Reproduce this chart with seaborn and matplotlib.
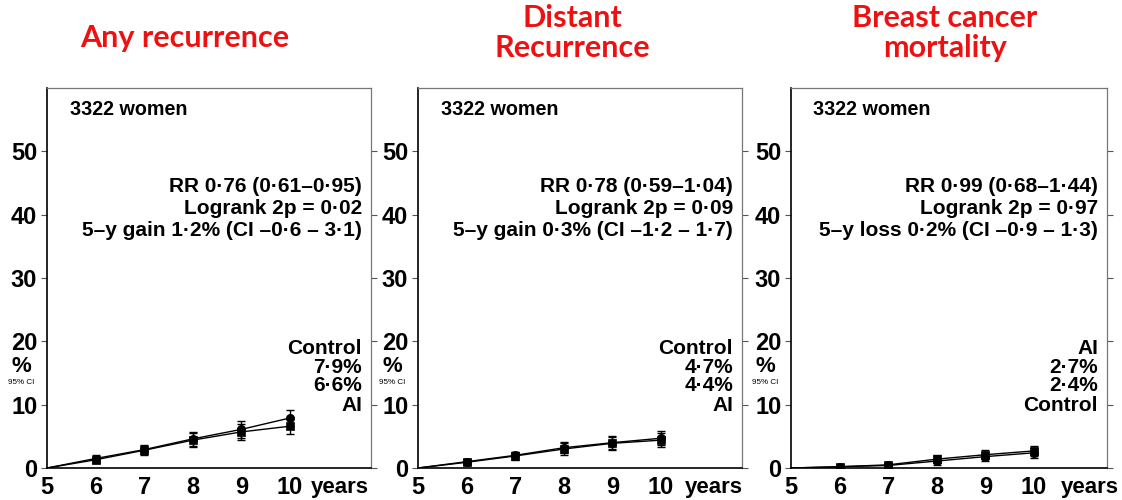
import numpy as np
import pandas as pd
import matplotlib
matplotlib.use("Agg")
import matplotlib.pyplot as plt
import matplotlib.transforms as mtransforms
import seaborn as sns

sns.set_theme(style="white")
plt.rcParams["font.family"] = ["Liberation Sans", "DejaVu Sans"]
plt.rcParams["text.color"] = "black"
plt.rcParams["xtick.color"] = "black"
plt.rcParams["ytick.color"] = "black"

# ---- data -------------------------------------------------------------
years = [5, 6, 7, 8, 9, 10]

titles = ["Any recurrence", "Distant\nRecurrence", "Breast cancer\nmortality"]

# cumulative risk (%) by year since start, with 95% CI half-widths
control_any = [0, 1.5, 2.9, 4.6, 6.1, 7.9]
ai_any = [0, 1.3, 2.8, 4.4, 5.7, 6.6]
ci_any = [0, 0.5, 0.7, 1.1, 1.3, 1.3]

control_distant = [0, 1.0, 2.0, 3.2, 4.0, 4.7]
ai_distant = [0, 0.9, 1.9, 3.0, 3.9, 4.4]
ci_distant = [0, 0.4, 0.6, 0.9, 1.0, 1.1]

control_mort = [0, 0.2, 0.4, 1.1, 1.8, 2.4]
ai_mort = [0, 0.2, 0.5, 1.4, 2.1, 2.7]
ci_mort = [0, 0.2, 0.3, 0.6, 0.7, 0.8]

stats_text = [
    ["RR 0\u00b776 (0\u00b761\u20130\u00b795)", "Logrank 2p = 0\u00b702",
     "5\u2013y gain 1\u00b72% (CI \u20130\u00b76 \u2013 3\u00b71)"],
    ["RR 0\u00b778 (0\u00b759\u20131\u00b704)", "Logrank 2p = 0\u00b709",
     "5\u2013y gain 0\u00b73% (CI \u20131\u00b72 \u2013 1\u00b77)"],
    ["RR 0\u00b799 (0\u00b768\u20131\u00b744)", "Logrank 2p = 0\u00b797",
     "5\u2013y loss 0\u00b72% (CI \u20130\u00b79 \u2013 1\u00b73)"],
]
end_labels = [
    ["Control", "7\u00b79%", "6\u00b76%", "AI"],
    ["Control", "4\u00b77%", "4\u00b74%", "AI"],
    ["AI", "2\u00b77%", "2\u00b74%", "Control"],
]
n_women = "3322 women"
y_ticks = [0, 10, 20, 30, 40, 50]
x_ticks = [5, 6, 7, 8, 9, 10]

panels = [
    (control_any, ai_any, ci_any),
    (control_distant, ai_distant, ci_distant),
    (control_mort, ai_mort, ci_mort),
]

# ---- layout (pixels) --------------------------------------------------
W, H = 1122, 500
fig = plt.figure(figsize=(W / 100, H / 100), dpi=100)

boxes = [(47, 371), (418, 742), (791, 1107)]
years_px = [340, 714, 1090]
top_px, bot_px = 88, 468
title_x = [185, 572, 945]
TXT = 15

for i, ((left, right), (ctrl, ai, ci)) in enumerate(zip(boxes, panels)):
    ax = fig.add_axes([left / W, 1 - bot_px / H, (right - left) / W,
                       (bot_px - top_px) / H])
    ax.set_facecolor("none")

    df = pd.DataFrame({
        "year": years * 2,
        "risk": ctrl + ai,
        "ci": ci + ci,
        "arm": ["Control"] * len(years) + ["AI"] * len(years),
    })
    sns.lineplot(data=df, x="year", y="risk", hue="arm",
                 palette={"Control": "black", "AI": "black"},
                 linewidth=1.0, legend=False, ax=ax, errorbar=None)
    pts = df[df["year"] > 5]
    for arm, mk in [("Control", "o"), ("AI", "s")]:
        sub = pts[pts["arm"] == arm]
        ax.errorbar(sub["year"], sub["risk"], yerr=sub["ci"], fmt="none",
                    ecolor="black", elinewidth=1.0, capsize=3, capthick=1.0)
        sns.scatterplot(data=sub, x="year", y="risk", marker=mk, color="black",
                        s=36, edgecolor="black", ax=ax, legend=False, zorder=3)

    ax.set_xlim(5, 5 + (right - left) / 48.6)
    ax.set_ylim(0, 60)
    ax.set_xticks(x_ticks)
    ax.set_xticklabels([str(t) for t in x_ticks], fontsize=17, fontweight="bold")
    ax.set_yticks(y_ticks)
    ax.set_yticklabels([str(t) for t in y_ticks], fontsize=17, fontweight="bold")
    ax.tick_params(axis="y", which="both", left=True, right=True, direction="out",
                   length=4, width=0.8, color="#555555", pad=3)
    ax.tick_params(axis="x", length=0, pad=6)
    ax.set_xlabel("")
    ax.set_ylabel("")
    for side in ["left", "bottom"]:
        ax.spines[side].set_color("black")
        ax.spines[side].set_linewidth(1.2)
    for side in ["top", "right"]:
        ax.spines[side].set_color("#777777")
        ax.spines[side].set_linewidth(0.9)

    # "years" sits beside the last tick label
    fig.text(years_px[i] / W, 1 - 487 / H, "years", ha="center", va="center",
             fontsize=16, fontweight="bold")

    tr = mtransforms.blended_transform_factory(ax.transAxes, ax.transData)
    ax.text(0.07, 56.6, n_women, transform=tr, ha="left", va="center",
            fontsize=14.2, fontweight="bold")

    xr = 1 - 9 / (right - left)
    for y, s in zip([44.5, 41.0, 37.5], stats_text[i]):
        ax.text(xr, y, s, transform=tr, ha="right", va="center",
                fontsize=TXT, fontweight="bold")
    for y, s in zip([18.8, 15.9, 13.0, 9.9], end_labels[i]):
        ax.text(xr, y, s, transform=tr, ha="right", va="center",
                fontsize=TXT, fontweight="bold")

    # y-axis unit
    fig.text((left - 26) / W, 1 - 367 / H, "%", ha="center", va="center",
             fontsize=16, fontweight="bold")
    fig.text((left - 26) / W, 1 - 382 / H, "95% CI", ha="center", va="center",
             fontsize=5.8)

    # panel heading
    fig.text(title_x[i] / W, 1 - (38 if i == 0 else 33) / H, titles[i],
             ha="center", va="center", fontsize=22, fontweight="bold",
             color="#ee1111", family="Lato", linespacing=1.05)

fig.savefig("out.png", dpi=100)
